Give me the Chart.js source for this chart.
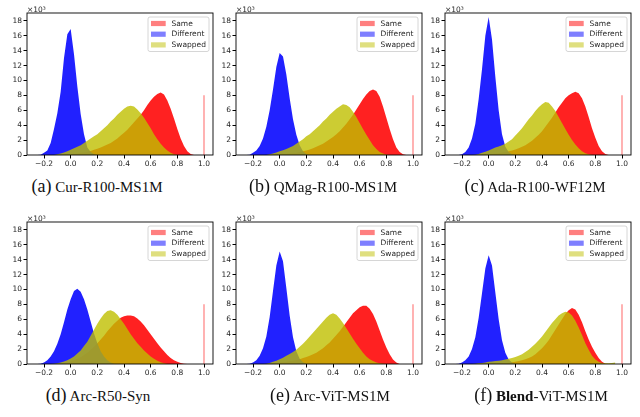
<!DOCTYPE html>
<html>
<head>
<meta charset="utf-8">
<script src="https://cdn.jsdelivr.net/npm/chart.js@4.4.1/dist/chart.umd.min.js"></script>
<style>
body{margin:0;background:#fff}
#fig{position:relative;width:640px;height:417px;overflow:hidden;background:#fff}
#fig canvas{position:absolute}
.cap{position:absolute;transform:translateX(-50%);white-space:nowrap;font-family:"Liberation Serif","Times New Roman",serif;font-size:15px;line-height:20px;color:#111}
.cap .tag{font-size:18px}
</style>
</head>
<body>
<div id="fig"></div>
<script>
// cosine score bins (x), counts in thousands (y)
const scores = [-0.25,-0.225,-0.2,-0.175,-0.15,-0.125,-0.1,-0.075,-0.05,-0.025,
  0,0.025,0.05,0.075,0.1,0.125,0.15,0.175,0.2,0.225,
  0.25,0.275,0.3,0.325,0.35,0.375,0.4,0.425,0.45,0.475,
  0.5,0.525,0.55,0.575,0.6,0.625,0.65,0.675,0.7,0.725,
  0.75,0.775,0.8,0.825,0.85,0.875,0.9,0.925,0.95];

const xTicks = [-0.2,0,0.2,0.4,0.6,0.8,1.0];
const xTickLabels = ["\u22120.2","0.0","0.2","0.4","0.6","0.8","1.0"];
const yTicks = [0,2,4,6,8,10,12,14,16,18];
const yTickLabels = ["0","2","4","6","8","10","12","14","16","18"];
const seriesNames = ["Same","Different","Swapped"];
const spikeScore = 1.0;
const spikeHeight = 8;

// (a) Cur-R100-MS1M
const sameCur = [0,0,0,0,0,0,0.02,0.03,0.05,0.08, 0.1,0.15,0.2,0.3,0.35,0.45,0.55,0.7,0.85,1.0,
  1.2,1.4,1.6,1.9,2.2,2.6,3.0,3.4,3.9,4.4, 4.9,5.4,6.0,6.7,7.3,7.8,8.2,8.4,8.1,7.3, 6.2,4.9,3.5,2.2,1.2,0.5,0.15,0,0];
const diffCur = [0,0.05,0.3,0.6,1.6,3.5,5.6,8.5,13,16.2, 16.9,13.5,9.2,5.5,2.8,1.0,0.4,0.1,0,0,
  0,0,0,0,0,0,0,0,0,0, 0,0,0,0,0,0,0,0,0,0, 0,0,0,0,0,0,0,0,0];
const swapCur = [0,0,0,0,0,0,0.1,0.2,0.35,0.5, 0.7,0.9,1.1,1.3,1.6,1.9,2.2,2.5,2.8,3.2,
  3.6,4.0,4.5,4.9,5.4,5.8,6.2,6.5,6.6,6.5, 6.1,5.6,5.0,4.3,3.6,2.8,2.1,1.5,1.0,0.6, 0.3,0.1,0,0,0,0,0,0,0];

// (b) QMag-R100-MS1M
const sameQMag = [0,0,0,0,0,0,0.02,0.03,0.05,0.08, 0.1,0.12,0.15,0.2,0.25,0.3,0.4,0.5,0.6,0.75,
  0.9,1.1,1.3,1.5,1.8,2.1,2.4,2.8,3.2,3.7, 4.2,4.8,5.4,6.1,6.8,7.5,8.1,8.6,8.8,8.6, 7.8,6.5,5.0,3.5,2.1,1.0,0.4,0.1,0];
const diffQMag = [0,0.05,0.3,0.6,1.2,2.2,3.8,6.0,8.8,11.8, 13.7,13.2,10.8,7.6,4.8,2.7,1.3,0.5,0.15,0,
  0,0,0,0,0,0,0,0,0,0, 0,0,0,0,0,0,0,0,0,0, 0,0,0,0,0,0,0,0,0];
const swapQMag = [0,0,0,0,0,0,0,0.1,0.2,0.35, 0.5,0.65,0.8,1.0,1.2,1.5,1.8,2.1,2.5,2.8,
  3.2,3.6,4.0,4.5,4.9,5.4,5.8,6.2,6.5,6.8, 6.7,6.4,5.8,5.1,4.3,3.5,2.7,2.0,1.3,0.8, 0.4,0.2,0.05,0,0,0,0,0,0];

// (c) Ada-R100-WF12M
const sameAda = [0,0,0,0,0,0,0.02,0.03,0.05,0.08, 0.1,0.15,0.2,0.25,0.3,0.4,0.5,0.6,0.75,0.9,
  1.1,1.3,1.6,1.9,2.3,2.7,3.2,3.8,4.4,5.0, 5.7,6.4,7.0,7.6,8.0,8.3,8.5,8.3,7.6,6.5, 5.1,3.6,2.3,1.2,0.5,0.15,0,0,0];
const diffAda = [0,0,0.1,0.4,1.0,2.2,4.2,7.5,11.5,16.0, 18.5,15.5,10.5,6.0,2.8,1.1,0.4,0.1,0,0,
  0,0,0,0,0,0,0,0,0,0, 0,0,0,0,0,0,0,0,0,0, 0,0,0,0,0,0,0,0,0];
const swapAda = [0,0,0,0,0,0,0.05,0.15,0.3,0.45, 0.6,0.8,1.0,1.15,1.3,1.5,1.8,2.1,2.6,3.1,
  3.6,4.2,4.8,5.3,5.9,6.4,6.8,7.1,7.0,6.5, 5.9,5.1,4.3,3.5,2.7,2.0,1.4,0.9,0.5,0.25, 0.1,0,0,0,0,0,0,0,0];

// (d) Arc-R50-Syn
const sameArcSyn = [0,0,0,0,0,0,0.05,0.08,0.15,0.25, 0.35,0.5,0.7,0.9,1.2,1.5,1.9,2.3,2.8,3.3,
  3.8,4.4,4.9,5.4,5.8,6.2,6.4,6.5,6.5,6.4, 6.1,5.7,5.2,4.6,4.0,3.4,2.8,2.2,1.7,1.2, 0.8,0.5,0.3,0.15,0.05,0,0,0,0];
const diffArcSyn = [0,0.05,0.2,0.5,1.0,1.7,2.7,4.0,5.6,7.3, 8.7,9.8,10.1,9.7,8.7,7.3,5.7,4.1,2.8,1.7,
  1.0,0.5,0.2,0.05,0,0,0,0,0,0, 0,0,0,0,0,0,0,0,0,0, 0,0,0,0,0,0,0,0,0];
const swapArcSyn = [0,0,0,0,0,0.05,0.1,0.2,0.35,0.5, 0.75,1.0,1.4,1.8,2.4,3.0,3.8,4.6,5.4,6.1,
  6.7,7.1,7.2,7.0,6.6,6.0,5.4,4.7,4.0,3.4, 2.8,2.3,1.8,1.4,1.0,0.7,0.45,0.25,0.1,0, 0,0,0,0,0,0,0,0,0];

// (e) Arc-ViT-MS1M
const sameArcViT = [0,0,0,0,0,0,0.05,0.07,0.1,0.15, 0.2,0.25,0.3,0.38,0.45,0.55,0.65,0.8,0.95,1.1,
  1.3,1.5,1.8,2.1,2.5,2.9,3.4,3.9,4.4,5.0, 5.6,6.2,6.8,7.2,7.6,7.8,7.8,7.4,6.7,5.7, 4.5,3.3,2.2,1.3,0.6,0.2,0,0,0];
const diffArcViT = [0,0.05,0.2,0.5,1.1,2.1,3.7,6.3,9.8,13.2, 15.1,13.8,10.2,6.5,3.6,1.7,0.7,0.25,0.05,0,
  0,0,0,0,0,0,0,0,0,0, 0,0,0,0,0,0,0,0,0,0, 0,0,0,0,0,0,0,0,0];
const swapArcViT = [0,0,0,0,0,0,0.05,0.15,0.3,0.45, 0.65,0.85,1.1,1.35,1.6,1.9,2.3,2.7,3.2,3.7,
  4.2,4.7,5.2,5.7,6.2,6.6,6.8,6.6,6.1,5.5, 4.8,4.1,3.4,2.7,2.1,1.5,1.0,0.65,0.4,0.2, 0.1,0.03,0,0,0,0,0,0,0];

// (f) Blend-ViT-MS1M
const sameBlend = [0,0,0,0,0,0,0,0,0.02,0.03, 0.05,0.07,0.08,0.09,0.1,0.15,0.2,0.25,0.3,0.4,
  0.5,0.65,0.8,1.0,1.3,1.7,2.1,2.6,3.2,3.9, 4.6,5.3,6.0,6.7,7.2,7.5,7.3,6.6,5.6,4.4, 3.3,2.3,1.5,0.8,0.3,0.05,0,0,0];
const diffBlend = [0,0.05,0.2,0.5,1.0,2.0,3.6,6.2,9.5,12.8, 14.6,13.2,9.6,6.0,3.2,1.5,0.6,0.2,0.05,0,
  0,0,0,0,0,0,0,0,0,0, 0,0,0,0,0,0,0,0,0,0, 0,0,0,0,0,0,0,0,0];
const swapBlend = [0,0,0,0,0,0,0.05,0.1,0.15,0.2, 0.3,0.35,0.4,0.45,0.5,0.6,0.7,0.8,0.95,1.1,
  1.3,1.6,1.9,2.3,2.7,3.2,3.7,4.3,4.9,5.5, 6.0,6.5,6.8,7.0,6.9,6.5,5.8,4.9,3.9,2.8, 1.9,1.1,0.6,0.3,0.15,0.1,0.1,0.15,0.2];

const panels = [
  {tag:"(a)", name:"Cur-R100-MS1M", same:sameCur, diff:diffCur, swap:swapCur, left:0, top:0, cap:97},
  {tag:"(b)", name:"QMag-R100-MS1M", same:sameQMag, diff:diffQMag, swap:swapQMag, left:209, top:0, cap:323},
  {tag:"(c)", name:"Ada-R100-WF12M", same:sameAda, diff:diffAda, swap:swapAda, left:418, top:0, cap:535},
  {tag:"(d)", name:"Arc-R50-Syn", same:sameArcSyn, diff:diffArcSyn, swap:swapArcSyn, left:0, top:209, cap:98},
  {tag:"(e)", name:"Arc-ViT-MS1M", same:sameArcViT, diff:diffArcViT, swap:swapArcViT, left:209, top:209, cap:330},
  {tag:"(f)", name:"ViT-MS1M", bold:"Blend", same:sameBlend, diff:diffBlend, swap:swapBlend, left:418, top:209, cap:541}
];

const fillCol = ["rgba(255,0,0,0.87)","rgba(0,0,255,0.87)","rgba(191,191,0,0.8)"];
const legendCol = ["rgba(255,0,0,0.5)","rgba(0,0,255,0.5)","rgba(191,191,0,0.5)"];
const FONT = '7.5px "DejaVu Sans"';

// frame, x10^3 offset text and matplotlib-ish legend box
const decor = {
  id:"decor",
  afterDatasetsDraw(chart){
    const c = chart.ctx, a = chart.chartArea;
    c.save();
    c.strokeStyle = "#000"; c.lineWidth = 0.9;
    c.strokeRect(a.left, a.top, a.right - a.left, a.bottom - a.top);
    c.font = FONT; c.fillStyle = "#262626"; c.textBaseline = "alphabetic";
    c.fillText("\u00d710\u00b3", a.left, a.top - 1.5);
    // legend
    const bx = a.right - 65, by = a.top + 4, bw = 61, bh = 34.5;
    c.beginPath();
    c.roundRect(bx, by, bw, bh, 2);
    c.fillStyle = "rgba(255,255,255,0.8)"; c.fill();
    c.strokeStyle = "#cccccc"; c.lineWidth = 0.8; c.stroke();
    seriesNames.forEach((n, i) => {
      const cy = by + 6.5 + i * 10.7;
      c.fillStyle = legendCol[i];
      c.fillRect(bx + 3, cy - 2.6, 14.7, 5.2);
      c.fillStyle = "#262626"; c.textBaseline = "middle";
      c.fillText(n, bx + 23.5, cy + 0.3);
    });
    c.restore();
  }
};

Chart.defaults.font.family = '"DejaVu Sans"';
Chart.defaults.font.size = 7.5;
Chart.defaults.color = "#262626";

const fig = document.getElementById("fig");
panels.forEach(p => {
  const cv = document.createElement("canvas");
  cv.width = 214; cv.height = 170;
  cv.style.left = p.left + "px"; cv.style.top = p.top + "px";
  fig.appendChild(cv);
  const pts = arr => scores.map((s, i) => ({x:s, y:arr[i]}));
  const area = (arr, k) => ({label:seriesNames[k], data:pts(arr), backgroundColor:fillCol[k],
    borderWidth:0, pointRadius:0, fill:"origin", tension:0});
  new Chart(cv, {
    type:"line",
    data:{datasets:[
      area(p.swap, 2), area(p.diff, 1), area(p.same, 0),
      {label:"spike", data:[{x:spikeScore, y:0}, {x:spikeScore, y:spikeHeight}],
        borderColor:"rgba(255,0,0,0.5)", borderWidth:1.2, pointRadius:0, fill:false}
    ]},
    options:{
      responsive:false, animation:false, devicePixelRatio:1,
      layout:{padding:{top:13, right:1, left:0, bottom:0}},
      plugins:{legend:{display:false}, tooltip:{enabled:false}},
      scales:{
        x:{type:"linear", min:-0.3275, max:1.0675,
          afterBuildTicks:s => { s.ticks = xTicks.map(v => ({value:v})); },
          afterFit:s => { s.height = 15; },
          ticks:{padding:1.5, maxRotation:0, autoSkip:false, callback:(v, i) => xTickLabels[i]},
          grid:{drawOnChartArea:false, tickLength:3.5, tickColor:"#000"},
          border:{display:false}},
        y:{min:0, max:19.05,
          afterBuildTicks:s => { s.ticks = yTicks.map(v => ({value:v})); },
          afterFit:s => { s.width = 27; },
          ticks:{padding:1.5, autoSkip:false, callback:(v, i) => yTickLabels[i]},
          grid:{drawOnChartArea:false, tickLength:3.5, tickColor:"#000"},
          border:{display:false}}
      }
    },
    plugins:[decor]
  });
  const cap = document.createElement("div");
  cap.className = "cap";
  cap.style.left = p.cap + "px";
  cap.style.top = (p.top + 176) + "px";
  cap.innerHTML = '<span class="tag">' + p.tag + '</span> ' + (p.bold ? "<b>" + p.bold + "</b>-" : "") + p.name;
  fig.appendChild(cap);
});
</script>
</body>
</html>
